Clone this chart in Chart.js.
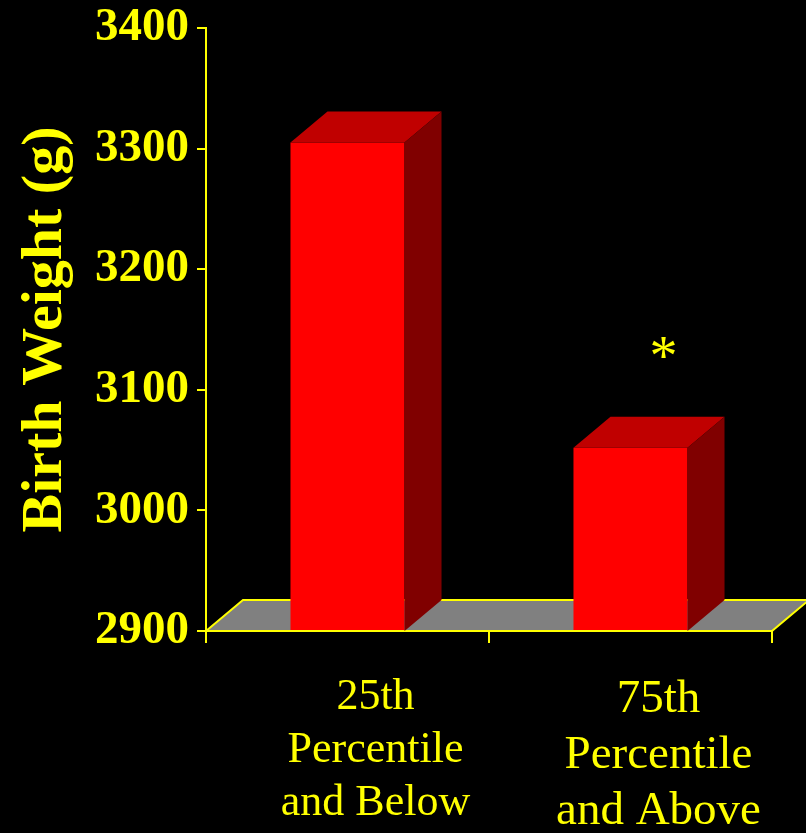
<!DOCTYPE html>
<html>
<head>
<meta charset="utf-8">
<script src="https://cdn.jsdelivr.net/npm/chart.js@4/dist/chart.umd.min.js"></script>
<style>
  html, body { margin: 0; padding: 0; background: #000; }
  #c { display: block; }
</style>
</head>
<body>
<canvas id="c" width="806" height="833"></canvas>
<script>
// Birth weight by percentile group
const categories = [
  ['25th', 'Percentile', 'and Below'],
  ['75th', 'Percentile', 'and Above']
];
const birthWeights = [3305, 3052];
const significance = ['', '*'];
const yTicks = [2900, 3000, 3100, 3200, 3300, 3400];
const yTitle = 'Birth Weight (g)';

const YELLOW = '#ffff00';
const SERIF = '"Liberation Serif", "Times New Roman", serif';
const DX = 37, DY = 31; // oblique depth of the 3D look

// grey floor under the bars
const floor3d = {
  id: 'floor3d',
  beforeDatasetsDraw(chart) {
    const { ctx, chartArea: a } = chart;
    ctx.save();
    ctx.beginPath();
    ctx.moveTo(a.left, a.bottom);
    ctx.lineTo(a.left + DX, a.bottom - DY);
    ctx.lineTo(a.right + DX, a.bottom - DY);
    ctx.lineTo(a.right, a.bottom);
    ctx.closePath();
    ctx.fillStyle = '#808080';
    ctx.fill();
    ctx.strokeStyle = YELLOW;
    ctx.lineWidth = 2;
    ctx.stroke();
    ctx.restore();
  }
};

// top and side faces of each bar, plus significance marks
const bars3d = {
  id: 'bars3d',
  afterDatasetsDraw(chart) {
    const ctx = chart.ctx;
    const meta = chart.getDatasetMeta(0);
    const floorY = chart.chartArea.bottom;
    ctx.save();
    meta.data.forEach((bar, i) => {
      const { x, y, width } = bar.getProps(['x', 'y', 'width'], true);
      const base = floorY;
      const l = x - width / 2, r = x + width / 2;
      ctx.fillStyle = '#c00000';
      ctx.beginPath();
      ctx.moveTo(l, y);
      ctx.lineTo(l + DX, y - DY);
      ctx.lineTo(r + DX, y - DY);
      ctx.lineTo(r, y);
      ctx.closePath();
      ctx.fill();
      ctx.fillStyle = '#800000';
      ctx.beginPath();
      ctx.moveTo(r, y);
      ctx.lineTo(r + DX, y - DY);
      ctx.lineTo(r + DX, base - DY);
      ctx.lineTo(r, base);
      ctx.closePath();
      ctx.fill();
      if (significance[i]) {
        ctx.fillStyle = YELLOW;
        ctx.font = '56px ' + SERIF;
        ctx.textAlign = 'center';
        ctx.textBaseline = 'alphabetic';
        ctx.fillText(significance[i], x + DX - 4, y - 73);
      }
    });
    ctx.restore();
  }
};

new Chart(document.getElementById('c'), {
  type: 'bar',
  data: {
    labels: categories,
    datasets: [{
      data: birthWeights,
      base: 2900,
      backgroundColor: '#ff0000',
      borderWidth: 0,
      categoryPercentage: 1,
      barPercentage: 0.403
    }]
  },
  options: {
    responsive: false,
    animation: false,
    devicePixelRatio: 1,
    layout: { padding: { top: 28, right: 34, left: 0, bottom: 0 } },
    plugins: { legend: { display: false }, tooltip: { enabled: false } },
    scales: {
      x: {
        offset: true,
        grid: { display: true, drawOnChartArea: false, offset: true, color: YELLOW, lineWidth: 2, tickLength: 12 },
        border: { color: YELLOW, width: 2 },
        ticks: {
          color: YELLOW,
          padding: 28,
          labelOffset: 28,
          maxRotation: 0,
          autoSkip: false,
          font: (c) => ({ family: SERIF, size: c.index === 0 ? 44 : 47, lineHeight: 1.2 })
        },
        afterFit: (s) => { s.height = 202; s.paddingLeft = 0; s.paddingRight = 0; }
      },
      y: {
        min: 2900,
        max: 3400,
        afterBuildTicks: (s) => { s.ticks = yTicks.map(v => ({ value: v })); },
        grid: { display: true, drawOnChartArea: false, color: YELLOW, lineWidth: 2, tickLength: 9 },
        border: { color: YELLOW, width: 2 },
        ticks: {
          color: YELLOW,
          padding: 8,
          callback: (v) => String(v),
          font: { family: SERIF, size: 47, weight: 'bold', lineHeight: 1.1 }
        },
        title: {
          display: true,
          text: yTitle,
          color: YELLOW,
          padding: { top: 11, bottom: 0 },
          font: { family: SERIF, size: 58, weight: 'bold', lineHeight: 1.2 }
        },
        afterFit: (s) => { s.width = 206; s.paddingTop = 0; s.paddingBottom = 0; }
      }
    }
  },
  plugins: [floor3d, bars3d]
});
</script>
</body>
</html>
